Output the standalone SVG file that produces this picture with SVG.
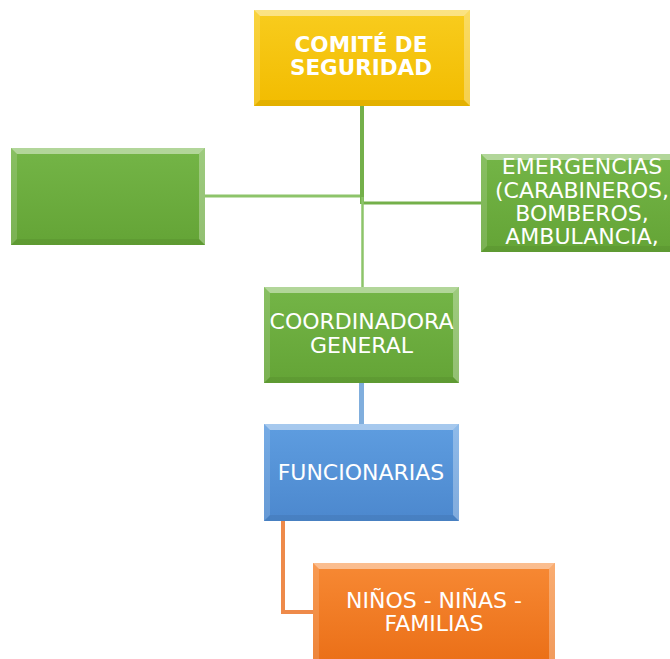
<svg xmlns="http://www.w3.org/2000/svg" width="670" height="659" viewBox="0 0 670 659">
<defs>
<linearGradient id="gY" x1="0" y1="0" x2="0" y2="1"><stop offset="0" stop-color="#F8CC1E"/><stop offset="1" stop-color="#F2BC00"/></linearGradient>
<linearGradient id="gG" x1="0" y1="0" x2="0" y2="1"><stop offset="0" stop-color="#74B547"/><stop offset="1" stop-color="#64A436"/></linearGradient>
<linearGradient id="gB" x1="0" y1="0" x2="0" y2="1"><stop offset="0" stop-color="#5E9DE0"/><stop offset="1" stop-color="#4C88CE"/></linearGradient>
<linearGradient id="gO" x1="0" y1="0" x2="0" y2="1"><stop offset="0" stop-color="#F78934"/><stop offset="1" stop-color="#EB7018"/></linearGradient>
</defs>
<style>
.t{font-family:"DejaVu Sans",Verdana,sans-serif;font-size:22px;fill:#fff;text-anchor:middle}
.b{font-weight:bold;font-size:21.5px}
.bt{fill:#fff;opacity:.45}
.bl{fill:#fff;opacity:.15}
.br{fill:#fff;opacity:.3}
.bb{fill:#000;opacity:.06}
.c{fill:none}
</style>
<rect width="670" height="659" fill="#fff"/>
<g id="connectors" class="c">
<line x1="362" y1="106" x2="362" y2="204" stroke="#74B04A" stroke-width="4"/>
<line x1="205" y1="196" x2="360" y2="196" stroke="#8DC46A" stroke-width="3"/>
<line x1="362" y1="203" x2="481" y2="203" stroke="#74B04A" stroke-width="3"/>
<line x1="362.5" y1="197" x2="362.5" y2="287" stroke="#8DC46A" stroke-width="2.5"/>
<line x1="361.5" y1="383" x2="361.5" y2="424" stroke="#80AEDD" stroke-width="5"/>
<path d="M283 521 V612 H313" stroke="#EE8A4A" stroke-width="4"/>
</g>
<g id="comite">
<rect x="254" y="10" width="216" height="96" fill="url(#gY)"/>
<polygon class="bt" points="254,10 470,10 464,16 260,16"/>
<polygon class="bl" points="254,10 260,16 260,100 254,106"/>
<polygon class="br" points="470,10 470,106 464,100 464,16"/>
<polygon class="bb" points="254,106 470,106 464,100 260,100"/>
<text class="t b" x="361" y="52">COMITÉ DE</text>
<text class="t b" x="361" y="75">SEGURIDAD</text>
</g>
<g id="vacio">
<rect x="11" y="148" width="194" height="97" fill="url(#gG)"/>
<polygon class="bt" points="11,148 205,148 199,154 17,154"/>
<polygon class="bl" points="11,148 17,154 17,239 11,245"/>
<polygon class="br" points="205,148 205,245 199,239 199,154"/>
<polygon class="bb" points="11,245 205,245 199,239 17,239"/>
</g>
<g id="emergencias">
<rect x="481" y="154" width="195" height="98" fill="url(#gG)"/>
<polygon class="bt" points="481,154 676,154 670,160 487,160"/>
<polygon class="bl" points="481,154 487,160 487,246 481,252"/>
<polygon class="bb" points="481,252 676,252 670,246 487,246"/>
<text class="t" x="582" y="174">EMERGENCIAS</text>
<text class="t" x="582" y="198">(CARABINEROS,</text>
<text class="t" x="582" y="221">BOMBEROS,</text>
<text class="t" x="582" y="244">AMBULANCIA,</text>
</g>
<g id="coordinadora">
<rect x="264" y="287" width="195" height="96" fill="url(#gG)"/>
<polygon class="bt" points="264,287 459,287 453,293 270,293"/>
<polygon class="bl" points="264,287 270,293 270,377 264,383"/>
<polygon class="br" points="459,287 459,383 453,377 453,293"/>
<polygon class="bb" points="264,383 459,383 453,377 270,377"/>
<text class="t" x="361.5" y="329">COORDINADORA</text>
<text class="t" x="361.5" y="353">GENERAL</text>
</g>
<g id="funcionarias">
<rect x="264" y="424" width="195" height="97" fill="url(#gB)"/>
<polygon class="bt" points="264,424 459,424 453,430 270,430"/>
<polygon class="bl" points="264,424 270,430 270,515 264,521"/>
<polygon class="br" points="459,424 459,521 453,515 453,430"/>
<polygon class="bb" points="264,521 459,521 453,515 270,515"/>
<text class="t" x="361" y="480">FUNCIONARIAS</text>
</g>
<g id="ninos">
<rect x="313" y="563" width="242" height="97" fill="url(#gO)"/>
<polygon class="bt" points="313,563 555,563 549,569 319,569"/>
<polygon class="bl" points="313,563 319,569 319,660 313,660"/>
<polygon class="br" points="555,563 555,660 549,660 549,569"/>
<text class="t" x="434" y="608">NIÑOS - NIÑAS -</text>
<text class="t" x="434" y="631">FAMILIAS</text>
</g>
</svg>
